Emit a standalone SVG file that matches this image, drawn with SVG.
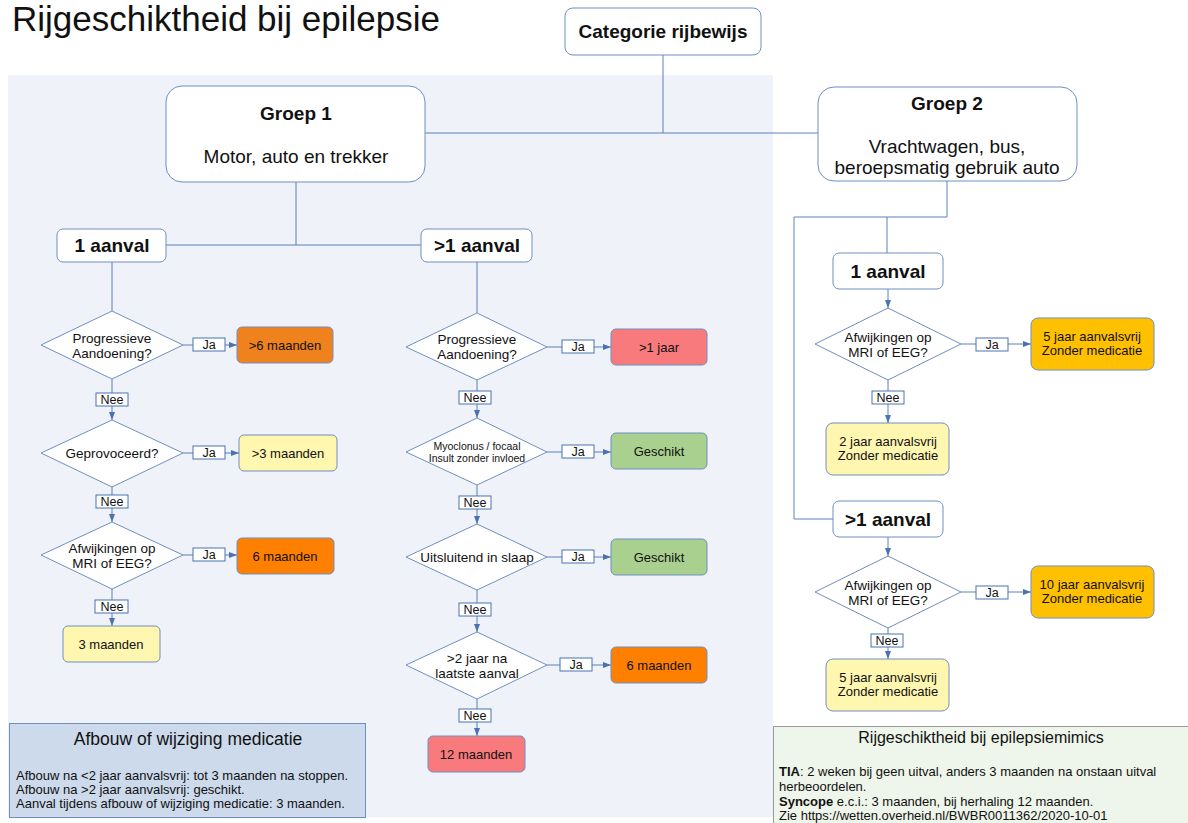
<svg xmlns="http://www.w3.org/2000/svg" width="1188" height="823" viewBox="0 0 1188 823">
  <defs>
    <marker id="arrow" viewBox="0 0 8 6" refX="8" refY="3" markerWidth="8" markerHeight="6" markerUnits="userSpaceOnUse" orient="auto">
      <path d="M0,0 L8,3 L0,6 z" fill="#4a72b0"/>
    </marker>
    <style>
      text { font-family: "Liberation Sans", Arial, sans-serif; fill: #111; }
      .box { fill: #fff; stroke: #6f8fc2; stroke-width: 1; }
      .dia { fill: #fff; stroke: #6f8fc2; stroke-width: 1; }
      .res { stroke: #6f8fc2; stroke-width: 1; }
      .lbl { fill: #fff; stroke: #4a72b0; stroke-width: 1; }
      .ln { fill: none; stroke: #5b80bb; stroke-width: 1; }
      .arr { fill: none; stroke: #5b80bb; stroke-width: 1; marker-end: url(#arrow); }
      .c { text-anchor: middle; }
      .big { font-size: 19px; }
      .bold19 { font-size: 19px; font-weight: bold; }
      .hd { font-size: 19px; font-weight: bold; }
      .q { font-size: 13.5px; }
      .r { font-size: 13px; }
      .l { font-size: 12.5px; }
      .orange { fill: #f0821e; }
      .dorange { fill: #ff8000; }
      .yellow { fill: #fff6b0; }
      .red { fill: #f87a7c; }
      .green { fill: #a9d08e; }
      .amber { fill: #ffc000; }
    </style>
  </defs>

  <!-- page background -->
  <rect x="0" y="0" width="1188" height="823" fill="#fff"/>
  <!-- Groep 1 panel -->
  <rect x="8" y="75" width="765" height="742" fill="#eff2f8"/>

  <text x="12" y="31" style="font-size:35px">Rijgeschiktheid bij epilepsie</text>

  <!-- connectors -->
  <g id="connectors">
    <path class="ln" d="M663,55 V133"/>
    <path class="ln" d="M425,133 H818"/>
    <path class="ln" d="M296,182 V245"/>
    <path class="ln" d="M166,245 H421"/>
    <path class="ln" d="M947,181 V217 H794 V519 H833"/>
    <path class="ln" d="M887,217 V253"/>

    <!-- Groep 1, 1 aanval -->
    <path class="ln" d="M112,262 V311"/>
    <path class="arr" d="M183,345 H237"/>
    <path class="arr" d="M112,379 V420"/>
    <path class="arr" d="M183,453 H239"/>
    <path class="arr" d="M112,487 V522"/>
    <path class="arr" d="M183,555 H237"/>
    <path class="arr" d="M112,589 V626"/>

    <!-- Groep 1, >1 aanval -->
    <path class="ln" d="M477,262 V313"/>
    <path class="arr" d="M547,347 H611"/>
    <path class="arr" d="M477,380 V418"/>
    <path class="arr" d="M547,452 H611"/>
    <path class="arr" d="M477,485 V524"/>
    <path class="arr" d="M547,557 H611"/>
    <path class="arr" d="M477,590 V632"/>
    <path class="arr" d="M547,665 H611"/>
    <path class="arr" d="M477,699 V736"/>

    <!-- Groep 2 -->
    <path class="arr" d="M888,289 V308"/>
    <path class="arr" d="M961,344 H1031"/>
    <path class="arr" d="M888,380 V423"/>
    <path class="arr" d="M888,537 V556"/>
    <path class="arr" d="M961,592 H1031"/>
    <path class="arr" d="M888,628 V659"/>

    <!-- Ja / Nee labels -->
    <g class="l">
      <rect class="lbl" x="193" y="338" width="32" height="13"/><text class="c l" x="209" y="349">Ja</text>
      <rect class="lbl" x="96" y="393" width="32" height="13"/><text class="c l" x="112" y="404">Nee</text>
      <rect class="lbl" x="193" y="446" width="32" height="13"/><text class="c l" x="209" y="457">Ja</text>
      <rect class="lbl" x="96" y="495" width="32" height="13"/><text class="c l" x="112" y="506">Nee</text>
      <rect class="lbl" x="193" y="548" width="32" height="13"/><text class="c l" x="209" y="559">Ja</text>
      <rect class="lbl" x="95" y="600" width="33" height="13"/><text class="c l" x="112" y="611">Nee</text>

      <rect class="lbl" x="562" y="340" width="32" height="13"/><text class="c l" x="578" y="351">Ja</text>
      <rect class="lbl" x="459" y="391" width="32" height="13"/><text class="c l" x="475" y="402">Nee</text>
      <rect class="lbl" x="562" y="445" width="32" height="13"/><text class="c l" x="578" y="456">Ja</text>
      <rect class="lbl" x="459" y="496" width="32" height="13"/><text class="c l" x="475" y="507">Nee</text>
      <rect class="lbl" x="562" y="550" width="32" height="13"/><text class="c l" x="578" y="561">Ja</text>
      <rect class="lbl" x="459" y="603" width="32" height="13"/><text class="c l" x="475" y="614">Nee</text>
      <rect class="lbl" x="560" y="658" width="32" height="13"/><text class="c l" x="576" y="669">Ja</text>
      <rect class="lbl" x="459" y="709" width="32" height="13"/><text class="c l" x="475" y="720">Nee</text>

      <rect class="lbl" x="976" y="338" width="32" height="13"/><text class="c l" x="992" y="349">Ja</text>
      <rect class="lbl" x="872" y="391" width="32" height="13"/><text class="c l" x="888" y="402">Nee</text>
      <rect class="lbl" x="976" y="586" width="32" height="13"/><text class="c l" x="992" y="597">Ja</text>
      <rect class="lbl" x="871" y="634" width="32" height="13"/><text class="c l" x="887" y="645">Nee</text>
    </g>
  </g>

  <!-- top level -->
  <g id="categorie">
    <rect class="box" x="565" y="8" width="196" height="47" rx="8"/>
    <text class="c bold19" x="663" y="38">Categorie rijbewijs</text>
  </g>
  <g id="groep1">
    <rect class="box" x="166" y="86" width="259" height="96" rx="16"/>
    <text class="c bold19" x="296" y="120">Groep 1</text>
    <text class="c big" x="296" y="163">Motor, auto en trekker</text>
  </g>
  <g id="groep2">
    <rect class="box" x="818" y="87" width="259" height="94" rx="16"/>
    <text class="c bold19" x="947" y="110">Groep 2</text>
    <text class="c big" x="947" y="153">Vrachtwagen, bus,</text>
    <text class="c big" x="947" y="174">beroepsmatig gebruik auto</text>
  </g>

  <!-- Groep 1: 1 aanval -->
  <g id="g1-1aanval">
    <rect class="box" x="57" y="229" width="109" height="33" rx="6"/>
    <text class="c hd" x="112" y="252">1 aanval</text>
  </g>
  <g id="g1-1-progressief">
    <polygon class="dia" points="112,311 183,345 112,379 41,345"/>
    <text class="c q" x="112" y="343">Progressieve</text>
    <text class="c q" x="112" y="358">Aandoening?</text>
  </g>
  <g id="g1-1-6mnd-plus">
    <rect class="res orange" x="237" y="327" width="96" height="36" rx="5"/>
    <text class="c r" x="285" y="350">&gt;6 maanden</text>
  </g>
  <g id="g1-1-geprovoceerd">
    <polygon class="dia" points="112,420 183,453 112,487 41,453"/>
    <text class="c q" x="112" y="458">Geprovoceerd?</text>
  </g>
  <g id="g1-1-3mnd-plus">
    <rect class="res yellow" x="239" y="435" width="98" height="36" rx="5"/>
    <text class="c r" x="288" y="458">&gt;3 maanden</text>
  </g>
  <g id="g1-1-mri">
    <polygon class="dia" points="112,522 183,555 112,589 41,555"/>
    <text class="c q" x="112" y="553">Afwijkingen op</text>
    <text class="c q" x="112" y="568">MRI of EEG?</text>
  </g>
  <g id="g1-1-6mnd">
    <rect class="res dorange" x="237" y="538" width="97" height="36" rx="5"/>
    <text class="c r" x="285" y="561">6 maanden</text>
  </g>
  <g id="g1-1-3mnd">
    <rect class="res yellow" x="63" y="626" width="97" height="36" rx="5"/>
    <text class="c r" x="111" y="649">3 maanden</text>
  </g>

  <!-- Groep 1: >1 aanval -->
  <g id="g1-meer">
    <rect class="box" x="421" y="229" width="111" height="33" rx="6"/>
    <text class="c hd" x="477" y="252">&gt;1 aanval</text>
  </g>
  <g id="g1-m-progressief">
    <polygon class="dia" points="477,313 547,347 477,380 406,347"/>
    <text class="c q" x="477" y="344">Progressieve</text>
    <text class="c q" x="477" y="359">Aandoening?</text>
  </g>
  <g id="g1-m-1jaar">
    <rect class="res red" x="611" y="329" width="96" height="36" rx="5"/>
    <text class="c r" x="659" y="352">&gt;1 jaar</text>
  </g>
  <g id="g1-m-myoclonus">
    <polygon class="dia" points="477,418 547,452 477,485 406,452"/>
    <text class="c" x="477" y="450" style="font-size:10.5px">Myoclonus / focaal</text>
    <text class="c" x="477" y="462" style="font-size:10.5px">Insult zonder invloed</text>
  </g>
  <g id="g1-m-geschikt1">
    <rect class="res green" x="611" y="433" width="96" height="36" rx="5"/>
    <text class="c r" x="659" y="456">Geschikt</text>
  </g>
  <g id="g1-m-slaap">
    <polygon class="dia" points="477,524 547,557 477,590 406,557"/>
    <text class="c q" x="477" y="562">Uitsluitend in slaap</text>
  </g>
  <g id="g1-m-geschikt2">
    <rect class="res green" x="611" y="539" width="96" height="36" rx="5"/>
    <text class="c r" x="659" y="562">Geschikt</text>
  </g>
  <g id="g1-m-2jaar">
    <polygon class="dia" points="477,632 547,665 477,699 406,665"/>
    <text class="c q" x="477" y="663">&gt;2 jaar na</text>
    <text class="c q" x="477" y="678">laatste aanval</text>
  </g>
  <g id="g1-m-6mnd">
    <rect class="res dorange" x="611" y="647" width="96" height="36" rx="5"/>
    <text class="c r" x="659" y="670">6 maanden</text>
  </g>
  <g id="g1-m-12mnd">
    <rect class="res red" x="428" y="736" width="97" height="36" rx="5"/>
    <text class="c r" x="476" y="759">12 maanden</text>
  </g>

  <!-- Groep 2: 1 aanval -->
  <g id="g2-1aanval">
    <rect class="box" x="833" y="253" width="110" height="36" rx="6"/>
    <text class="c hd" x="888" y="278">1 aanval</text>
  </g>
  <g id="g2-1-mri">
    <polygon class="dia" points="888,308 961,344 888,380 815,344"/>
    <text class="c q" x="888" y="342">Afwijkingen op</text>
    <text class="c q" x="888" y="357">MRI of EEG?</text>
  </g>
  <g id="g2-1-5jaar">
    <rect class="res amber" x="1031" y="318" width="123" height="52" rx="7"/>
    <text class="c r" x="1092" y="341">5 jaar aanvalsvrij</text>
    <text class="c r" x="1092" y="355">Zonder medicatie</text>
  </g>
  <g id="g2-1-2jaar">
    <rect class="res yellow" x="826" y="423" width="123" height="52" rx="7"/>
    <text class="c r" x="888" y="446">2 jaar aanvalsvrij</text>
    <text class="c r" x="888" y="460">Zonder medicatie</text>
  </g>

  <!-- Groep 2: >1 aanval -->
  <g id="g2-meer">
    <rect class="box" x="833" y="501" width="110" height="36" rx="6"/>
    <text class="c hd" x="888" y="526">&gt;1 aanval</text>
  </g>
  <g id="g2-m-mri">
    <polygon class="dia" points="888,556 961,592 888,628 815,592"/>
    <text class="c q" x="888" y="590">Afwijkingen op</text>
    <text class="c q" x="888" y="605">MRI of EEG?</text>
  </g>
  <g id="g2-m-10jaar">
    <rect class="res amber" x="1031" y="566" width="123" height="52" rx="7"/>
    <text class="c r" x="1092" y="589">10 jaar aanvalsvrij</text>
    <text class="c r" x="1092" y="603">Zonder medicatie</text>
  </g>
  <g id="g2-m-5jaar">
    <rect class="res yellow" x="826" y="659" width="123" height="52" rx="7"/>
    <text class="c r" x="888" y="682">5 jaar aanvalsvrij</text>
    <text class="c r" x="888" y="696">Zonder medicatie</text>
  </g>

  <!-- notes -->
  <g id="note-afbouw">
    <rect x="9.5" y="723.5" width="356" height="94" fill="#ccdaec" stroke="#6f8fc2"/>
    <text class="c" x="188" y="745" style="font-size:17.5px">Afbouw of wijziging medicatie</text>
    <text x="16" y="780" style="font-size:13px">Afbouw na &lt;2 jaar aanvalsvrij: tot 3 maanden na stoppen.</text>
    <text x="16" y="794" style="font-size:13px">Afbouw na &gt;2 jaar aanvalsvrij: geschikt.</text>
    <text x="16" y="808" style="font-size:13px">Aanval tijdens afbouw of wijziging medicatie: 3 maanden.</text>
  </g>
  <g id="note-mimics">
    <rect x="773.5" y="726.5" width="420" height="100" fill="#eef5ea" stroke="#999"/>
    <text class="c" x="981" y="743" style="font-size:16px">Rijgeschiktheid bij epilepsiemimics</text>
    <text x="779" y="776" style="font-size:13px"><tspan font-weight="bold">TIA</tspan>: 2 weken bij geen uitval, anders 3 maanden na onstaan uitval</text>
    <text x="779" y="791" style="font-size:13px">herbeoordelen.</text>
    <text x="779" y="806" style="font-size:13px"><tspan font-weight="bold">Syncope</tspan> e.c.i.: 3 maanden, bij herhaling 12 maanden.</text>
    <text x="779" y="820" style="font-size:13px">Zie https://wetten.overheid.nl/BWBR0011362/2020-10-01</text>
  </g>
</svg>
